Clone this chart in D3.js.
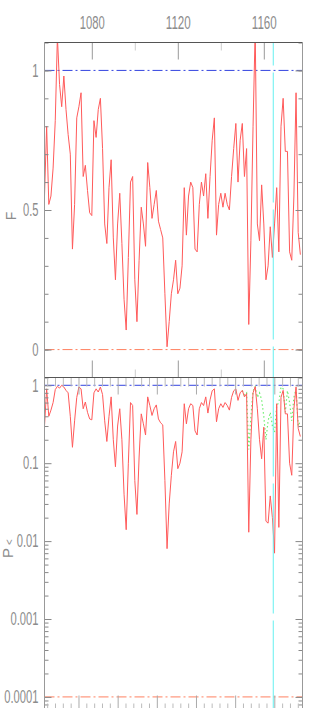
<!DOCTYPE html>
<html>
<head>
<meta charset="utf-8">
<script src="https://cdn.jsdelivr.net/npm/d3@7"></script>
<style>
body { margin: 0; background: #fff; }
svg { display: block; }
.tick text { font-family: "Liberation Sans", Arial, sans-serif; font-size: 18px; fill: #8c8c8c; }
.ytitle { font-family: "Liberation Sans", Arial, sans-serif; fill: #8c8c8c; }
</style>
</head>
<body>
<div id="chart-area"></div>
<script>
// data, one value per step starting at firstX
var firstX = 1058;

var fValues = [
  0.55, 0.80, 0.52, 0.55, 0.65, 0.82, 1.12, 0.95, 0.87, 0.98,
  0.86, 0.77, 0.70, 0.36, 0.52, 0.83, 0.87, 0.92, 0.62, 0.66,
  0.57, 0.49, 0.48, 0.82, 0.76, 0.86, 0.90, 0.72, 0.45, 0.38,
  0.58, 0.68, 0.40, 0.25, 0.45, 0.56, 0.38, 0.18, 0.07, 0.33,
  0.60, 0.62, 0.25, 0.10, 0.32, 0.51, 0.45, 0.37, 0.67, 0.58,
  0.47, 0.52, 0.57, 0.46, 0.43, 0.40, 0.20, 0.01, 0.10, 0.20,
  0.25, 0.32, 0.20, 0.22, 0.30, 0.58, 0.41, 0.55, 0.60, 0.58,
  0.36, 0.35, 0.52, 0.60, 0.55, 0.63, 0.47, 0.62, 0.75, 0.83,
  0.41, 0.52, 0.56, 0.51, 0.56, 0.52, 0.50, 0.62, 0.72, 0.81,
  0.60, 0.75, 0.81, 0.62, 0.72, 0.09, 0.39, 0.80, 1.15, 0.45,
  0.39, 0.59, 0.45, 0.25, 0.30, 0.44, 0.33, 0.45, 0.58, 0.35,
  0.80, 0.90, 0.71, 0.71, 0.35, 0.32, 0.55, 0.92, 0.42, 0.34
];

var pValues = [
  0.30, 0.90, 0.40, 0.48, 0.60, 0.88, 0.97, 0.92, 1.0, 0.95,
  0.86, 0.80, 0.40, 0.16, 0.35, 0.70, 0.95, 0.90, 0.50, 0.61,
  0.45, 0.37, 0.36, 0.80, 0.90, 0.82, 0.95, 0.76, 0.35, 0.19,
  0.40, 0.71, 0.20, 0.09, 0.30, 0.50, 0.20, 0.04, 0.014, 0.10,
  0.60, 0.55, 0.06, 0.022, 0.12, 0.43, 0.32, 0.23, 0.71, 0.55,
  0.41, 0.50, 0.56, 0.37, 0.33, 0.31, 0.06, 0.008, 0.03, 0.07,
  0.14, 0.19, 0.085, 0.10, 0.14, 0.58, 0.32, 0.50, 0.58, 0.55,
  0.26, 0.23, 0.50, 0.60, 0.55, 0.71, 0.44, 0.65, 0.85, 0.90,
  0.34, 0.50, 0.58, 0.52, 0.60, 0.55, 0.48, 0.70, 0.85, 0.90,
  0.64, 0.80, 0.86, 0.71, 0.78, 0.013, 0.20, 0.80, 0.96, 0.50,
  0.20, 0.114, 0.29, 0.018, 0.017, 0.038, 0.020, 0.007, 0.58, 0.015,
  0.70, 0.86, 0.43, 0.43, 0.10, 0.07, 0.50, 0.95, 0.28, 0.22
];

// second (dotted) curve, only where it leaves the first one
var altStart = 1150;
var pAltValues = [
  0.86, 0.75, 0.80, 0.15, 0.40, 0.85, 0.96, 0.70, 0.80, 0.65,
  0.40, 0.20, 0.35, 0.45, 0.30, 0.25, 0.55, 0.60, 0.95, 0.90,
  0.45, 0.85, 0.60, 0.35, 0.70, 0.90, 0.30, 0.35
];

var xTicksMajor = [1080, 1120, 1160];
var xTicksMinor = [1100, 1140];
var fTicksMajor = [0, 0.5, 1];
var fTickLabels = ["0", "0.5", "1"];
var pTicksMajor = [0.0001, 0.001, 0.01, 0.1, 1];
var pTickLabels = ["0.0001", "0.001", "0.01", "0.1", "1"];
var lagTicksMajor = [5, 10, 15, 20, 25, 30];

var markerX = 1164.4;
var fLevelHigh = 1, fLevelLow = 0;
var pLevelHigh = 1, pLevelLow = 0.0001;


var left = 44.5, right = 302.5;
var top1 = 42.5, mid = 377.5, bottom2 = 712.5;

var svg = d3.select("#chart-area").append("svg")
            .attr("width", 319)
            .attr("height", 708);

var x = d3.scaleLinear().domain([1058, 1178]).range([left, right]);
var xLag = d3.scaleLinear().domain([0.66, 33.6]).range([left, right]);
var yF = d3.scaleLinear().domain([-0.1, 1.1]).range([mid, top1]);
var yP = d3.scaleLog().domain([Math.pow(10, -4.2), Math.pow(10, 0.1)]).range([bottom2, mid]);

function labelWidth(s) {
  var w = 0;
  for (var i = 0; i < s.length; i++) w += (s[i] == "." ? 3 : 6.25);
  return w;
}

// draws one d3 axis without its domain line
function addAxis(axis, tx, ty, color) {
  var g = svg.append("g")
     .attr("transform", "translate(" + tx + "," + ty + ")")
     .call(axis);
  g.select(".domain").remove();
  g.selectAll(".tick line").attr("stroke", color);
  g.selectAll(".tick text")
   .attr("fill", "#8c8c8c")
   .attr("textLength", function() { return labelWidth(d3.select(this).text()); })
   .attr("lengthAdjust", "spacingAndGlyphs");
  return g;
}

// clip areas
var defs = svg.append("defs");
defs.append("clipPath").attr("id", "clipTop").append("rect")
    .attr("x", left).attr("y", top1).attr("width", right - left).attr("height", mid - top1);
defs.append("clipPath").attr("id", "clipBottom").append("rect")
    .attr("x", left).attr("y", mid).attr("width", right - left).attr("height", bottom2 - mid);

var gTop = svg.append("g").attr("clip-path", "url(#clipTop)");
var gBottom = svg.append("g").attr("clip-path", "url(#clipBottom)");

// reference levels
gTop.append("line")
    .attr("x1", left).attr("x2", right)
    .attr("y1", yF(fLevelHigh)).attr("y2", yF(fLevelHigh))
    .attr("stroke", "#3344e0").attr("stroke-dasharray", "10,3,2,3");
gTop.append("line")
    .attr("x1", left).attr("x2", right)
    .attr("y1", yF(fLevelLow)).attr("y2", yF(fLevelLow))
    .attr("stroke", "#ff8060").attr("stroke-dasharray", "10,3,2,3");
gBottom.append("line")
    .attr("x1", left).attr("x2", right)
    .attr("y1", yP(pLevelHigh)).attr("y2", yP(pLevelHigh))
    .attr("stroke", "#3344e0").attr("stroke-dasharray", "10,3,2,3");
gBottom.append("line")
    .attr("x1", left).attr("x2", right)
    .attr("y1", yP(pLevelLow)).attr("y2", yP(pLevelLow))
    .attr("stroke", "#ff8060").attr("stroke-dasharray", "10,3,2,3");

// vertical marker
svg.append("line")
   .attr("x1", x(markerX)).attr("x2", x(markerX))
   .attr("y1", top1).attr("y2", bottom2)
   .attr("stroke", "#66f0f0")
   .attr("stroke-dasharray", "130,7")
   .attr("stroke-dashoffset", 107);

var lineF = d3.line()
    .x(function(d, i) { return x(firstX + i); })
    .y(function(d) { return yF(d); });

var lineP = d3.line()
    .x(function(d, i) { return x(firstX + i); })
    .y(function(d) { return yP(d); });

var lineAlt = d3.line()
    .x(function(d, i) { return x(altStart + i); })
    .y(function(d) { return yP(d); });

gBottom.append("path")
    .datum(pAltValues)
    .attr("d", lineAlt)
    .attr("fill", "none")
    .attr("stroke", "#70ee70")
    .attr("stroke-width", 1.2)
    .attr("stroke-dasharray", "1.5,2.5");

gTop.append("path")
    .datum(fValues)
    .attr("d", lineF)
    .attr("fill", "none")
    .attr("stroke", "#ff5a5a")
    .attr("stroke-width", 1);

gBottom.append("path")
    .datum(pValues)
    .attr("d", lineP)
    .attr("fill", "none")
    .attr("stroke", "#ff5a5a")
    .attr("stroke-width", 1);

// top panel axes
addAxis(d3.axisLeft(yF).tickValues(fTicksMajor).tickSize(-7).tickPadding(6)
        .tickFormat(function(d, i) { return fTickLabels[i]; }), left, 0, "#888");
addAxis(d3.axisLeft(yF).ticks(12).tickSize(-4).tickFormat(""), left, 0, "#888");
addAxis(d3.axisRight(yF).tickValues(fTicksMajor).tickSize(-7).tickFormat(""), right, 0, "#888");
addAxis(d3.axisRight(yF).ticks(12).tickSize(-4).tickFormat(""), right, 0, "#888");

addAxis(d3.axisTop(x).tickValues(xTicksMajor).tickSize(-17).tickPadding(14)
        .tickFormat(d3.format("d")), 0, top1, "#999");
addAxis(d3.axisTop(x).tickValues(xTicksMinor).tickSize(-8).tickFormat(""), 0, top1, "#ccc");
addAxis(d3.axisBottom(x).tickValues(xTicksMajor).tickSize(-17).tickFormat(""), 0, mid, "#999");
addAxis(d3.axisBottom(x).tickValues(xTicksMinor).tickSize(-8).tickFormat(""), 0, mid, "#ccc");

// bottom panel axes
var pMinor = yP.ticks().filter(function(d) { return pTicksMajor.indexOf(d) < 0; });
addAxis(d3.axisLeft(yP).tickValues(pTicksMajor).tickSize(-7).tickPadding(6)
        .tickFormat(function(d, i) { return pTickLabels[i]; }), left, 0, "#888");
addAxis(d3.axisLeft(yP).tickValues(pMinor).tickSize(-4).tickFormat(""), left, 0, "#888");
addAxis(d3.axisRight(yP).tickValues(pTicksMajor).tickSize(-7).tickFormat(""), right, 0, "#888");
addAxis(d3.axisRight(yP).tickValues(pMinor).tickSize(-4).tickFormat(""), right, 0, "#888");

var lagMinor = xLag.ticks(30).filter(function(d) { return lagTicksMajor.indexOf(d) < 0; });
addAxis(d3.axisTop(xLag).tickValues(lagTicksMajor).tickSize(-17).tickFormat(""), 0, mid, "#aaa");
addAxis(d3.axisTop(xLag).tickValues(lagMinor).tickSize(-9).tickFormat(""), 0, mid, "#bbb");
addAxis(d3.axisBottom(xLag).tickValues(lagTicksMajor).tickSize(-17).tickFormat(""), 0, bottom2, "#aaa");
addAxis(d3.axisBottom(xLag).tickValues(lagMinor).tickSize(-9).tickFormat(""), 0, bottom2, "#bbb");

// frames
[[top1, mid], [mid, bottom2]].forEach(function(p) {
  svg.append("line").attr("x1", left).attr("x2", right).attr("y1", p[0]).attr("y2", p[0]).attr("stroke", "#555");
  svg.append("line").attr("x1", left).attr("x2", right).attr("y1", p[1]).attr("y2", p[1]).attr("stroke", "#555");
  svg.append("line").attr("x1", left).attr("x2", left).attr("y1", p[0]).attr("y2", p[1]).attr("stroke", "#999");
  svg.append("line").attr("x1", right).attr("x2", right).attr("y1", p[0]).attr("y2", p[1]).attr("stroke", "#999");
});

// axis titles
svg.append("text")
   .attr("class", "ytitle")
   .attr("transform", "translate(16,216) rotate(-90)")
   .attr("text-anchor", "middle")
   .attr("font-size", 14)
   .text("F");

var pt = svg.append("text")
   .attr("class", "ytitle")
   .attr("transform", "translate(13,558) rotate(-90)")
   .attr("font-size", 15)
   .text("P");
pt.append("tspan").attr("font-size", 10).attr("dx", 3).text("<");

</script>
</body>
</html>
